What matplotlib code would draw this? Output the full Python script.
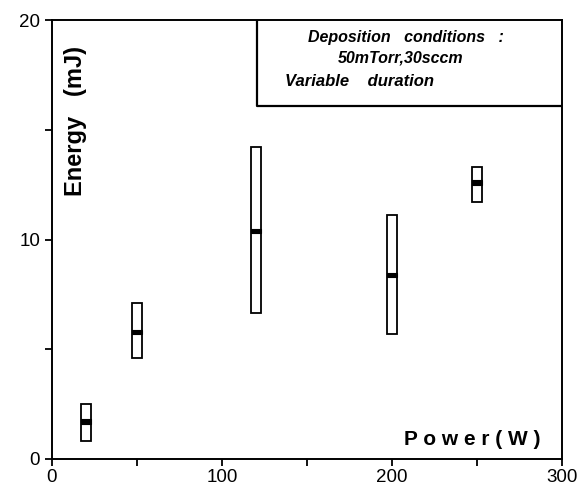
"""Energy vs power range boxes for variable-duration deposition."""

import matplotlib

matplotlib.use("Agg")
import matplotlib.pyplot as plt
from matplotlib.patches import Rectangle

# data
power = [20, 50, 120, 200, 250]
energy_low = [0.8, 4.6, 6.65, 5.7, 11.7]
energy_high = [2.5, 7.1, 14.2, 11.1, 13.3]
energy_mid = [1.7, 5.8, 10.4, 8.4, 12.6]

x_ticks = [0, 100, 200, 300]
y_ticks = [0, 10, 20]
note_lines = ["Deposition   conditions   :", "50mTorr,30sccm", "Variable    duration"]

plt.rcParams["font.family"] = ["Liberation Sans", "DejaVu Sans"]

fig = plt.figure(figsize=(5.81, 4.93), dpi=100)
ax = fig.add_axes([0.0895, 0.069, 0.878, 0.890])
ax.set_xlim(0, 300)
ax.set_ylim(0, 20)

box_w = 6
for x, lo, hi, mid in zip(power, energy_low, energy_high, energy_mid):
    ax.add_patch(Rectangle((x - box_w / 2, lo), box_w, hi - lo, facecolor="white",
                           edgecolor="black", linewidth=1.3, zorder=3))
    ax.add_patch(Rectangle((x - box_w / 2, mid - 0.1), box_w, 0.2, facecolor="black",
                           edgecolor="black", linewidth=0.8, zorder=4))

ax.set_xticks(x_ticks)
ax.set_xticks([50, 150, 250], minor=True)
ax.set_yticks(y_ticks)
ax.set_yticks([5, 15], minor=True)
ax.set_xticklabels([str(v) for v in x_ticks], fontsize=13.5)
ax.set_yticklabels([str(v) for v in y_ticks], fontsize=13.5)
ax.tick_params(which="both", direction="out", length=5, width=1.3, color="black")
ax.tick_params(axis="x", pad=2)
for s in ax.spines.values():
    s.set_linewidth(1.4)

# annotation box in upper right
ax.plot([120.6, 120.6, 300], [20, 16.1, 16.1], color="black", linewidth=1.6, zorder=5)
ax.text(208, 19.2, note_lines[0], ha="center", va="center", fontsize=11.5,
        fontweight="bold", style="italic")
ax.text(205, 18.3, note_lines[1], ha="center", va="center", fontsize=11.5,
        fontweight="bold", style="italic")
ax.text(137, 17.2, note_lines[2], ha="left", va="center", fontsize=12,
        fontweight="bold", style="italic")

ax.text(14, 15.4, "Energy   (mJ)", rotation=90, ha="center", va="center",
        fontsize=17, fontweight="bold")
ax.text(287, 0.87, "P o w e r ( W )", ha="right", va="center", fontsize=15,
        fontweight="bold")

fig.savefig("out.png", dpi=100)
